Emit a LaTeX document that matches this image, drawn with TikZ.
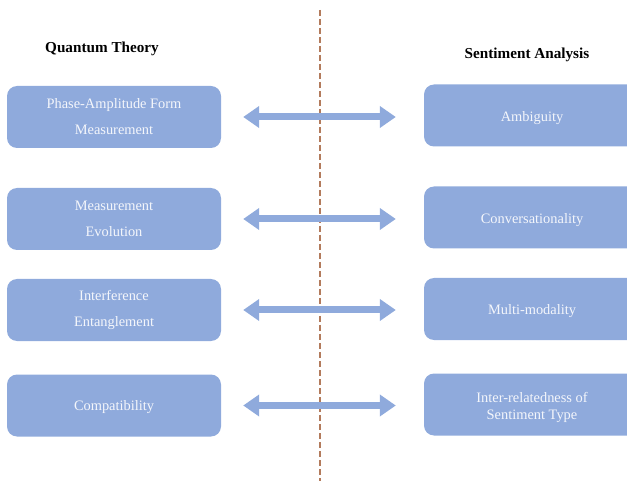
\documentclass[tikz,border=0pt]{standalone}
\usepackage{fontspec}
\setmainfont{Liberation Serif}
\usetikzlibrary{arrows.meta}
\definecolor{boxblue}{HTML}{8FAADC}
\definecolor{dashbrown}{HTML}{B37B5C}
\definecolor{txtwhite}{HTML}{F4F6FB}
\newcommand{\lowr}[2]{\raisebox{-#1pt}[0pt][0pt]{#2}}
\begin{document}
\begin{tikzpicture}[x=1pt,y=-1pt,
  lbox/.style={draw=none,fill=boxblue,rounded corners=10pt,minimum width=214pt,minimum height=62pt,
    text=txtwhite,align=center,inner sep=0pt,font=\fontsize{14.4}{26}\selectfont},
  rbox/.style={lbox,minimum width=216pt,font=\fontsize{14.4}{17.5}\selectfont},
  rtxt/.style={text=txtwhite,align=center,inner sep=0pt,font=\fontsize{14.4}{17.5}\selectfont},
  ttl/.style={font=\fontsize{15.2}{18}\selectfont\bfseries,text=black},
  arr/.style={draw=boxblue,line width=7pt,{Triangle[length=16pt,width=21pt]}-{Triangle[length=16pt,width=21pt]},shorten <=22pt,shorten >=28pt}]
\useasboundingbox (0,0) rectangle (627,481);
\begin{scope}
\clip (0,0) rectangle (627,481);
\draw[dashbrown,line width=1.4pt,dash pattern=on 6pt off 3pt] (320,10) -- (320,481);
\node[ttl] (qt) at (102,49) {Quantum Theory};
\node[ttl] (sa) at (527,55) {Sentiment Analysis};
\node[lbox] (q1) at (114,117) {Phase-Amplitude Form\\Measurement};
\node[lbox] (q2) at (114,219) {Measurement\\Evolution};
\node[lbox] (q3) at (114,310) {Interference\\Entanglement};
\node[lbox] (q4) at (114,405.5) {\lowr{4.8}{Compatibility}};
\node[rbox] (s1) at (532,115.5) {\lowr{6.2}{Ambiguity}};
\node[rbox] (s2) at (532,217.5) {\lowr{6}{Conversationality}};
\node[rbox] (s3) at (532,309) {\lowr{5.5}{Multi-modality}};
\node[rbox] (s4) at (532,404.5) {};
\node[rtxt] (s4t) at (532,407.5) {Inter-relatedness of\\Sentiment Type};
\foreach \i in {1,2,3,4}{
  \draw[arr] (q\i.east) -- (q\i.east -| s\i.west);
}
\end{scope}
\end{tikzpicture}
\end{document}
